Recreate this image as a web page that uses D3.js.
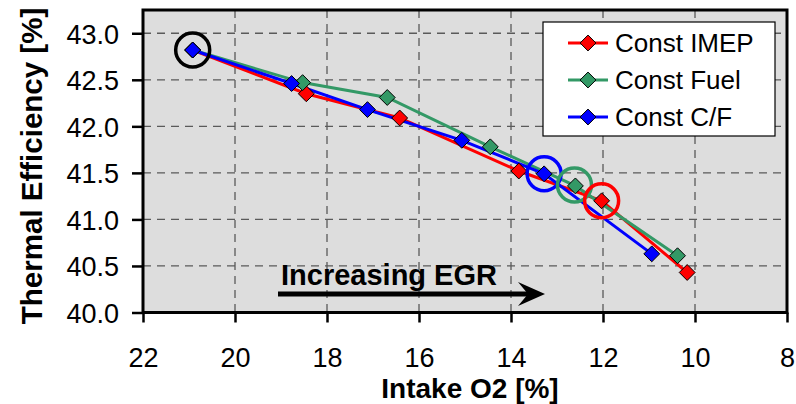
<!DOCTYPE html>
<html>
<head>
<meta charset="utf-8">
<script src="https://cdn.jsdelivr.net/npm/d3@7"></script>
<style>
    body { margin: 0; background: #fff; }
    svg { display: block; font-family: 'Liberation Sans', Arial, Helvetica, sans-serif; }
</style>
</head>
<body>
<svg width="796" height="404"></svg>
<script>
/* globals d3 */

// series
const seriesNames = ['Const IMEP', 'Const Fuel', 'Const C/F'];
const seriesColors = ['#ff0000', '#339966', '#0000ff'];

const imepO2 = [20.92, 18.45, 16.42, 13.83, 12.03, 10.17];
const imepEff = [42.82, 42.35, 42.09, 41.52, 41.20, 40.43];

const fuelO2 = [20.92, 18.53, 16.69, 14.45, 12.60, 10.38];
const fuelEff = [42.82, 42.47, 42.31, 41.78, 41.36, 40.61];

const cfO2 = [20.92, 18.77, 17.12, 15.07, 13.28, 10.94];
const cfEff = [42.82, 42.46, 42.18, 41.85, 41.49, 40.63];

// highlighted points (O2, eff, colour)
const ringO2 = [20.92, 13.28, 12.62, 12.03];
const ringEff = [42.82, 41.49, 41.37, 41.20];
const ringColors = ['#000000', '#0000ff', '#339966', '#ff0000'];

const xTicks = [22, 20, 18, 16, 14, 12, 10, 8];
const yTicks = [40.0, 40.5, 41.0, 41.5, 42.0, 42.5, 43.0];

const svg = d3.select('svg');
const pLeft = 143;
const pRight = 787;
const pTop = 10;
const pBottom = 312.5;

const x = d3.scaleLinear().domain([22, 8]).range([pLeft, pRight]);
const y = d3.scaleLinear().domain([40, 43.25]).range([pBottom, pTop]);

const series = [
    {name: seriesNames[0], color: seriesColors[0], o2: imepO2, eff: imepEff},
    {name: seriesNames[1], color: seriesColors[1], o2: fuelO2, eff: fuelEff},
    {name: seriesNames[2], color: seriesColors[2], o2: cfO2, eff: cfEff}
];

// plot background
svg.append('rect')
.attr('x', pLeft)
.attr('y', pTop)
.attr('width', pRight - pLeft)
.attr('height', pBottom - pTop)
.attr('fill', '#dddddd');

// grid
const grid = svg.append('g')
.attr('stroke', '#5a5a5a')
.attr('stroke-width', 1.3)
.attr('stroke-dasharray', '8,6');

grid.selectAll('line.v')
.data(xTicks.filter(t => t !== 22 && t !== 8))
.enter().append('line')
.attr('class', 'v')
.attr('x1', d => x(d))
.attr('x2', d => x(d))
.attr('y1', pTop)
.attr('y2', pBottom);

grid.selectAll('line.h')
.data(yTicks.filter(t => t !== 40))
.enter().append('line')
.attr('class', 'h')
.attr('x1', pLeft)
.attr('x2', pRight)
.attr('y1', d => y(d))
.attr('y2', d => y(d));

// plot border
svg.append('rect')
.attr('x', pLeft)
.attr('y', pTop)
.attr('width', pRight - pLeft)
.attr('height', pBottom - pTop)
.attr('fill', 'none')
.attr('stroke', '#000')
.attr('stroke-width', 3);

// axes
const xAxis = svg.append('g')
.attr('transform', 'translate(0,' + pBottom + ')')
.call(d3.axisBottom(x).tickValues(xTicks).tickFormat(d3.format('d')).tickSize(10).tickPadding(25));

const yAxis = svg.append('g')
.attr('transform', 'translate(' + pLeft + ',0)')
.call(d3.axisLeft(y).tickValues(yTicks).tickFormat(d3.format('.1f')).tickSize(11).tickPadding(13));

[xAxis, yAxis].forEach(a => {
    a.select('.domain').remove();
    a.selectAll('line').attr('stroke', '#000').attr('stroke-width', 2.5);
    a.selectAll('text')
    .attr('fill', '#000')
    .style('font-size', '27px')
    .style('font-family', "'Liberation Sans', Arial, Helvetica, sans-serif");
});
xAxis.selectAll('text').attr('dy', '0.71em');
yAxis.selectAll('text').attr('dy', '0.36em');

// axis titles
svg.append('text')
.attr('x', 470)
.attr('y', 398)
.attr('text-anchor', 'middle')
.style('font-size', '28px')
.style('font-weight', 'bold')
.text('Intake O2 [%]');

svg.append('text')
.attr('transform', 'translate(42,166) rotate(-90)')
.attr('text-anchor', 'middle')
.style('font-size', '29.5px')
.style('font-weight', 'bold')
.text('Thermal Efficiency [%]');

// series lines and markers
const diamond = d3.symbol().type(d3.symbolDiamond2).size(160);

series.forEach(s => {
    const pts = s.o2.map((v, i) => [v, s.eff[i]]);
    svg.append('path')
    .datum(pts)
    .attr('fill', 'none')
    .attr('stroke', s.color)
    .attr('stroke-width', 3)
    .attr('d', d3.line().x(d => x(d[0])).y(d => y(d[1])));
});

series.forEach(s => {
    const pts = s.o2.map((v, i) => [v, s.eff[i]]);
    svg.append('g')
    .selectAll('path')
    .data(pts)
    .enter().append('path')
    .attr('transform', d => 'translate(' + x(d[0]) + ',' + y(d[1]) + ')')
    .attr('d', diamond)
    .attr('fill', s.color)
    .attr('stroke', '#000')
    .attr('stroke-width', 1);
});

// rings
svg.append('g')
.selectAll('circle')
.data(ringO2.map((v, i) => ({o2: v, eff: ringEff[i], color: ringColors[i]})))
.enter().append('circle')
.attr('cx', d => x(d.o2))
.attr('cy', d => y(d.eff))
.attr('r', 17)
.attr('fill', 'none')
.attr('stroke', d => d.color)
.attr('stroke-width', 3.5);

// annotation
svg.append('text')
.attr('x', 281)
.attr('y', 285)
.style('font-size', '29px')
.style('font-weight', 'bold')
.text('Increasing EGR');

svg.append('line')
.attr('x1', 278)
.attr('x2', 532)
.attr('y1', 294)
.attr('y2', 294)
.attr('stroke', '#000')
.attr('stroke-width', 5);

svg.append('path')
.attr('d', 'M545,294 L518,282 L528,294 L518,306 Z')
.attr('fill', '#000');

// legend
const legend = svg.append('g');
legend.append('rect')
.attr('x', 543)
.attr('y', 22)
.attr('width', 232)
.attr('height', 114)
.attr('fill', '#fff')
.attr('stroke', '#000')
.attr('stroke-width', 1.2);

const rowY = d3.scalePoint().domain(seriesNames).range([43, 117]);

series.forEach(s => {
    const g = legend.append('g').attr('transform', 'translate(0,' + rowY(s.name) + ')');
    g.append('line')
    .attr('x1', 568)
    .attr('x2', 608)
    .attr('stroke', s.color)
    .attr('stroke-width', 3);
    g.append('path')
    .attr('transform', 'translate(588,0)')
    .attr('d', diamond)
    .attr('fill', s.color)
    .attr('stroke', '#000')
    .attr('stroke-width', 1);
    g.append('text')
    .attr('x', 615)
    .attr('dy', '0.36em')
    .style('font-size', '26px')
    .text(s.name);
});
</script>
</body>
</html>
